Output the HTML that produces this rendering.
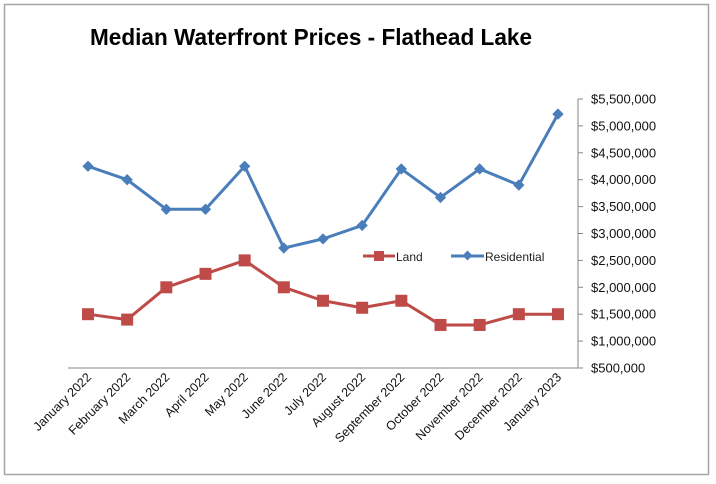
<!DOCTYPE html>
<html><head><meta charset="utf-8"><style>
html,body{margin:0;padding:0;background:#fff;}
svg{display:block;font-family:"Liberation Sans",sans-serif;}
</style></head><body>
<svg width="716" height="484" viewBox="0 0 716 484">
<rect x="4.5" y="4.5" width="704" height="470" fill="#fff" stroke="#a6a6a6" stroke-width="1.5"/>
<text x="90" y="45" font-size="23" font-weight="bold" fill="#000" textLength="442" lengthAdjust="spacingAndGlyphs">Median Waterfront Prices - Flathead Lake</text>
<g id="axes"></g>
<g id="series"></g>
<g>
<g>
<line x1="363" y1="256" x2="395" y2="256" stroke="#be4b48" stroke-width="3"/>
<rect x="374" y="251" width="10" height="10" fill="#be4b48"/>
<text x="396" y="261" font-size="12" fill="#222">Land</text>
</g>
<g>
<line x1="451" y1="256" x2="484" y2="256" stroke="#4a7ebb" stroke-width="3"/>
<rect x="464" y="252" width="7" height="7" fill="#4a7ebb" transform="rotate(45 467.5 255.5)"/>
<text x="485" y="261" font-size="12" fill="#222">Residential</text>
</g>
</g>
</svg>
<script>
const categories=["January 2022","February 2022","March 2022","April 2022","May 2022","June 2022","July 2022","August 2022","September 2022","October 2022","November 2022","December 2022","January 2023"];
const landValues=[1500000,1400000,2000000,2250000,2500000,2000000,1750000,1620000,1750000,1300000,1300000,1500000,1500000];
const residentialValues=[4250000,4000000,3450000,3450000,4250000,2730000,2900000,3150000,4200000,3670000,4200000,3900000,5220000];
const yTicks=[500000,1000000,1500000,2000000,2500000,3000000,3500000,4000000,4500000,5000000,5500000];
const yTickLabels=["$500,000","$1,000,000","$1,500,000","$2,000,000","$2,500,000","$3,000,000","$3,500,000","$4,000,000","$4,500,000","$5,000,000","$5,500,000"];

const NS="http://www.w3.org/2000/svg";
const x0=88,x1=558,yMin=500000,yMax=5500000,yBot=368,yTop=99,axisX=578;
function xs(i){return x0+(x1-x0)*i/(categories.length-1);}
function ys(v){return yBot-(v-yMin)/(yMax-yMin)*(yBot-yTop);}
function mk(tag,attrs,parent){const e=document.createElementNS(NS,tag);for(const k in attrs)e.setAttribute(k,attrs[k]);parent.appendChild(e);return e;}
const axes=document.getElementById('axes');
const series=document.getElementById('series');

const xAxis=mk('line',{x1:68,y1:yBot,x2:axisX,y2:yBot,stroke:'#868686','stroke-width':1},axes);


const yAxis=mk('line',{x1:axisX,y1:yTop,x2:axisX,y2:yBot,stroke:'#868686','stroke-width':1},axes);



yTicks.forEach((v,i)=>{
  const y=ys(v);
  mk('line',{x1:axisX,y1:y,x2:axisX+5,y2:y,stroke:'#868686'},axes);
  const t=mk('text',{x:591,y:y+4.5,'font-size':13,fill:'#111'},axes);
  t.textContent=yTickLabels[i];
  
  
});
categories.forEach((c,i)=>{
  const x=xs(i);
  const t=mk('text',{x:x+4,y:yBot+10,'font-size':12.5,fill:'#111','text-anchor':'end',transform:`rotate(-45 ${x+4} ${yBot+10})`},axes);
  t.textContent=c;
  
  
});

function drawLine(vals,color,name,marker){
  const pl=mk('polyline',{points:vals.map((v,i)=>xs(i)+','+ys(v)).join(' '),fill:'none',stroke:color,'stroke-width':3,'stroke-linejoin':'round'},series);
  
  
  vals.forEach((v,i)=>{
    const x=xs(i),y=ys(v);let m;
    if(marker==='square'){m=mk('rect',{x:x-6,y:y-6,width:12,height:12,fill:color},series);}
    else{m=mk('rect',{x:x-4,y:y-4,width:8,height:8,fill:color,transform:`rotate(45 ${x} ${y})`},series);}
    
    
  });
}
drawLine(landValues,'#be4b48','land','square');
drawLine(residentialValues,'#4a7ebb','residential','diamond');
</script>
</body></html>
